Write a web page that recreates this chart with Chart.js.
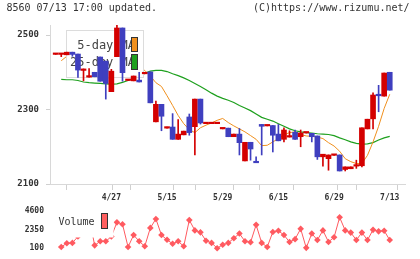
<!DOCTYPE html>
<html>
<head>
<meta charset="utf-8">
<script src="https://cdn.jsdelivr.net/npm/chart.js@4.4.0/dist/chart.umd.min.js"></script>
<style>
  html, body { margin: 0; padding: 0; background: #fff; }
  #wrap { position: relative; width: 420px; height: 259px; overflow: hidden; }
  #wrap canvas { position: absolute; left: 0; }
  #main { top: 0; }
  #vol { top: 200px; }
</style>
</head>
<body>
<div id="wrap">
  <canvas id="main" width="420" height="205"></canvas>
  <canvas id="vol" width="420" height="59"></canvas>
</div>
<script>
// one entry per trading day, oldest first
var opens  = [2448,2448,2447,2454,2449,2405,2387,2400,2441,2430,2348,2442,2519,2378,2377,2379,2396,2401,2267,2314,
              2250,2253,2220,2232,2280,2254,2328,2262,2262,2262,2248,2250,2227,2234,2162,2212,2161,2260,2256,2257,
              2234,2220,2226,2239,2227,2237,2236,2229,2173,2168,2177,2178,2139,2141,2148,2149,2248,2275,2339,2336,2400];
var highs  = [2450,2450,2454,2454,2449,2409,2410,2400,2441,2430,2408,2527,2519,2380,2390,2400,2399,2401,2323,2314,
              2253,2289,2273,2242,2288,2328,2328,2264,2264,2264,2250,2250,2234,2249,2212,2212,2173,2260,2258,2257,
              2260,2251,2243,2245,2245,2239,2236,2229,2180,2178,2179,2178,2146,2146,2164,2251,2274,2345,2365,2398,2400];
var lows   = [2448,2442,2447,2443,2386,2377,2387,2388,2376,2328,2348,2442,2376,2378,2377,2374,2396,2318,2267,2243,
              2250,2220,2220,2232,2231,2178,2261,2262,2262,2262,2248,2227,2227,2178,2162,2164,2157,2178,2256,2186,
              2216,2213,2226,2220,2200,2237,2213,2166,2148,2137,2177,2135,2135,2141,2142,2146,2248,2248,2294,2336,2352];
var closes = [2450,2450,2454,2448,2406,2409,2390,2388,2376,2370,2403,2519,2399,2380,2390,2374,2399,2318,2314,2282,
              2253,2220,2234,2242,2238,2328,2264,2264,2264,2264,2250,2227,2234,2211,2212,2194,2157,2255,2258,2231,
              2216,2245,2229,2220,2237,2239,2227,2173,2180,2178,2179,2135,2146,2146,2150,2251,2274,2339,2337,2398,2352];
var ma5    = [null,2431,2443,2448,2441,2433,2411,2398,2392,2386,2385,2411,2413,2409,2412,2414,2405,2390,2372,2362,
              2337,2311,2284,2262,2246,2238,2251,2258,2264,2271,2276,2265,2256,2248,2240,2230,2220,2203,2204,2213,
              2222,2232,2238,2240,2233,2229,2228,2226,2222,2211,2202,2188,2168,2160,2155,2155,2177,2213,2255,2303,2341];
var ma25   = [null,2381,2380,2380,2378,2374,2372,2371,2370,2369,2368,2369,2373,2378,2384,2390,2397,2403,2405,2405,
              2402,2396,2391,2385,2378,2370,2362,2353,2344,2336,2330,2325,2319,2311,2304,2297,2288,2279,2274,2269,
              2262,2255,2248,2243,2240,2238,2237,2235,2234,2233,2230,2224,2219,2213,2209,2207,2208,2211,2218,2224,2228];
var volume = [null,250,700,740,1500,2300,3900,440,930,930,1500,3210,2990,250,1680,930,330,2540,3620,1680,
              1110,630,930,330,3480,2240,2010,1000,740,100,510,740,1300,1860,930,810,2910,740,250,2050,
              2200,1680,850,1190,2430,140,1860,1080,2240,850,1410,3810,2240,1980,1080,1980,1080,2310,2130,2200,1080];
var dateLabels = ['4/27', '5/15', '5/29', '6/15', '6/29', '7/13'];
var dateIndex  = [10, 20, 30, 40, 50, 60];
var priceTicks = [2100, 2300, 2500];
var volTicks   = [100, 2350, 4600];
var maNames    = ['5-day MA', '25-day MA'];

var RED = '#d40000', BLUE = '#3f3fbf', ORANGE = '#f0901e', GREEN = '#1ea01e', VOLC = '#ff5a60';
var XMIN = -1.02, XMAX = 62.74;
var mono = 'DejaVu Sans Mono';

function pts(arr) {
  return arr.map(function(v, i){ return {x: i, y: v}; });
}
var candleColors = closes.map(function(c, i){ return c >= opens[i] ? RED : BLUE; });
var bodies = opens.map(function(o, i){ return {x: i, y: [o, closes[i]]}; });
var wicks = lows.map(function(l, i){ return {x: i, y: [l, highs[i]]}; });

var mainDeco = {
  id: 'mainDeco',
  beforeDraw: function(chart){
    var ctx = chart.ctx;
    ctx.save();
    ctx.font = '10px "' + mono + '"';
    ctx.fillStyle = '#333';
    ctx.textBaseline = 'alphabetic';
    ctx.textAlign = 'left';
    ctx.fillText('8560 07/13 17:00 updated.', 6.5, 10.5);
    ctx.textAlign = 'right';
    ctx.fillText('(C)https://www.rizumu.net/', 409.5, 10.5);
    ctx.restore();
  },
  // legend sits above the MA lines but under the candles
  beforeDatasetDraw: function(chart, args){
    if (args.index !== 1) return;
    var ctx = chart.ctx;
    ctx.save();
    ctx.fillStyle = '#fff';
    ctx.fillRect(66, 30, 77, 47);
    ctx.strokeStyle = '#dcdcdc';
    ctx.lineWidth = 1;
    ctx.strokeRect(66.5, 30.5, 77, 47);
    ctx.font = '12px "' + mono + '"';
    ctx.fillStyle = '#444';
    ctx.textAlign = 'right';
    ctx.textBaseline = 'middle';
    ctx.fillText(maNames[0], 135, 46);
    ctx.fillText(maNames[1], 135, 63);
    ctx.strokeStyle = '#333';
    ctx.fillStyle = ORANGE;
    ctx.fillRect(131.5, 37.5, 6, 14);
    ctx.strokeRect(131.5, 37.5, 6, 14);
    ctx.fillStyle = GREEN;
    ctx.fillRect(131.5, 54.5, 6, 15);
    ctx.strokeRect(131.5, 54.5, 6, 15);
    ctx.restore();
  }
};

new Chart(document.getElementById('main'), {
  type: 'bar',
  data: {
    datasets: [
      { label: 'body', data: bodies, backgroundColor: candleColors, barThickness: 5, grouped: false, minBarLength: 1.5, order: 0 },
      { label: 'wick', data: wicks, backgroundColor: candleColors, barThickness: 1, grouped: false, order: 1 },
      { type: 'line', label: maNames[0], data: pts(ma5), borderColor: ORANGE, borderWidth: 1, pointRadius: 0, order: 2 },
      { type: 'line', label: maNames[1], data: pts(ma25), borderColor: GREEN, borderWidth: 1.2, pointRadius: 0, order: 3 }
    ]
  },
  options: {
    responsive: false,
    animation: false,
    layout: { padding: { top: 25, right: 15, left: 0, bottom: 0 } },
    plugins: { legend: { display: false }, tooltip: { enabled: false } },
    scales: {
      x: {
        type: 'linear', min: XMIN, max: XMAX, offset: false,
        afterBuildTicks: function(s){
          var t = [];
          for (var k = 0; k <= 11; k++) t.push({value: s.min + k * (s.max - s.min) / 11});
          dateIndex.forEach(function(d, i){ t.push({value: d, name: dateLabels[i]}); });
          t.sort(function(a, b){ return a.value - b.value; });
          s.ticks = t;
        },
        afterFit: function(s){ s.height = 21; },
        border: { color: '#d8d8d8', width: 1 },
        grid: {
          drawOnChartArea: false, tickLength: 6,
          color: function(c){ return c.tick && c.tick.name ? 'rgba(0,0,0,0)' : '#d0d0d0'; }
        },
        ticks: {
          autoSkip: false, maxRotation: 0, padding: 3, color: '#333',
          font: { family: mono, size: 8, weight: 'bold' },
          callback: function(v, i, t){ return t[i].name || ''; }
        }
      },
      y: {
        min: 2100, max: 2527,
        afterBuildTicks: function(s){ s.ticks = priceTicks.map(function(v){ return {value: v}; }); },
        afterFit: function(s){ s.width = 50; },
        border: { color: '#d8d8d8', width: 1 },
        grid: { drawOnChartArea: false, tickLength: 4, color: '#d0d0d0' },
        ticks: {
          padding: 7, color: '#333',
          font: { family: mono, size: 9, weight: 'bold' },
          callback: function(v){ return String(v); }
        }
      }
    }
  },
  plugins: [mainDeco]
});

var volDeco = {
  id: 'volDeco',
  afterDatasetsDraw: function(chart){
    var ctx = chart.ctx;
    ctx.save();
    ctx.fillStyle = '#fff';
    ctx.fillRect(55, 11, 58.5, 26.5);
    ctx.font = '10px "' + mono + '"';
    ctx.fillStyle = '#333';
    ctx.textAlign = 'left';
    ctx.textBaseline = 'middle';
    ctx.fillText('Volume', 58.5, 22);
    ctx.fillStyle = '#ff6060';
    ctx.fillRect(101.5, 13.5, 6, 15);
    ctx.strokeStyle = '#333';
    ctx.lineWidth = 1;
    ctx.strokeRect(101.5, 13.5, 6, 15);
    ctx.restore();
  }
};

new Chart(document.getElementById('vol'), {
  type: 'line',
  data: {
    datasets: [
      { label: 'Volume', data: pts(volume), borderColor: VOLC, backgroundColor: VOLC, borderWidth: 1,
        pointStyle: 'rectRot', pointRadius: 3.3, pointBorderWidth: 0, clip: false }
    ]
  },
  options: {
    responsive: false,
    animation: false,
    layout: { padding: { top: 9, right: 15, left: 0, bottom: 10 } },
    plugins: { legend: { display: false }, tooltip: { enabled: false } },
    scales: {
      x: { type: 'linear', min: XMIN, max: XMAX, display: false },
      y: {
        min: 100, max: 4600,
        afterBuildTicks: function(s){ s.ticks = volTicks.map(function(v){ return {value: v}; }); },
        afterFit: function(s){ s.width = 50; },
        border: { display: false },
        grid: { display: false, drawTicks: false },
        ticks: {
          padding: 6, color: '#333',
          font: { family: mono, size: 8, weight: 'bold' },
          callback: function(v){ return String(v); }
        }
      }
    }
  },
  plugins: [volDeco]
});
</script>
</body>
</html>
